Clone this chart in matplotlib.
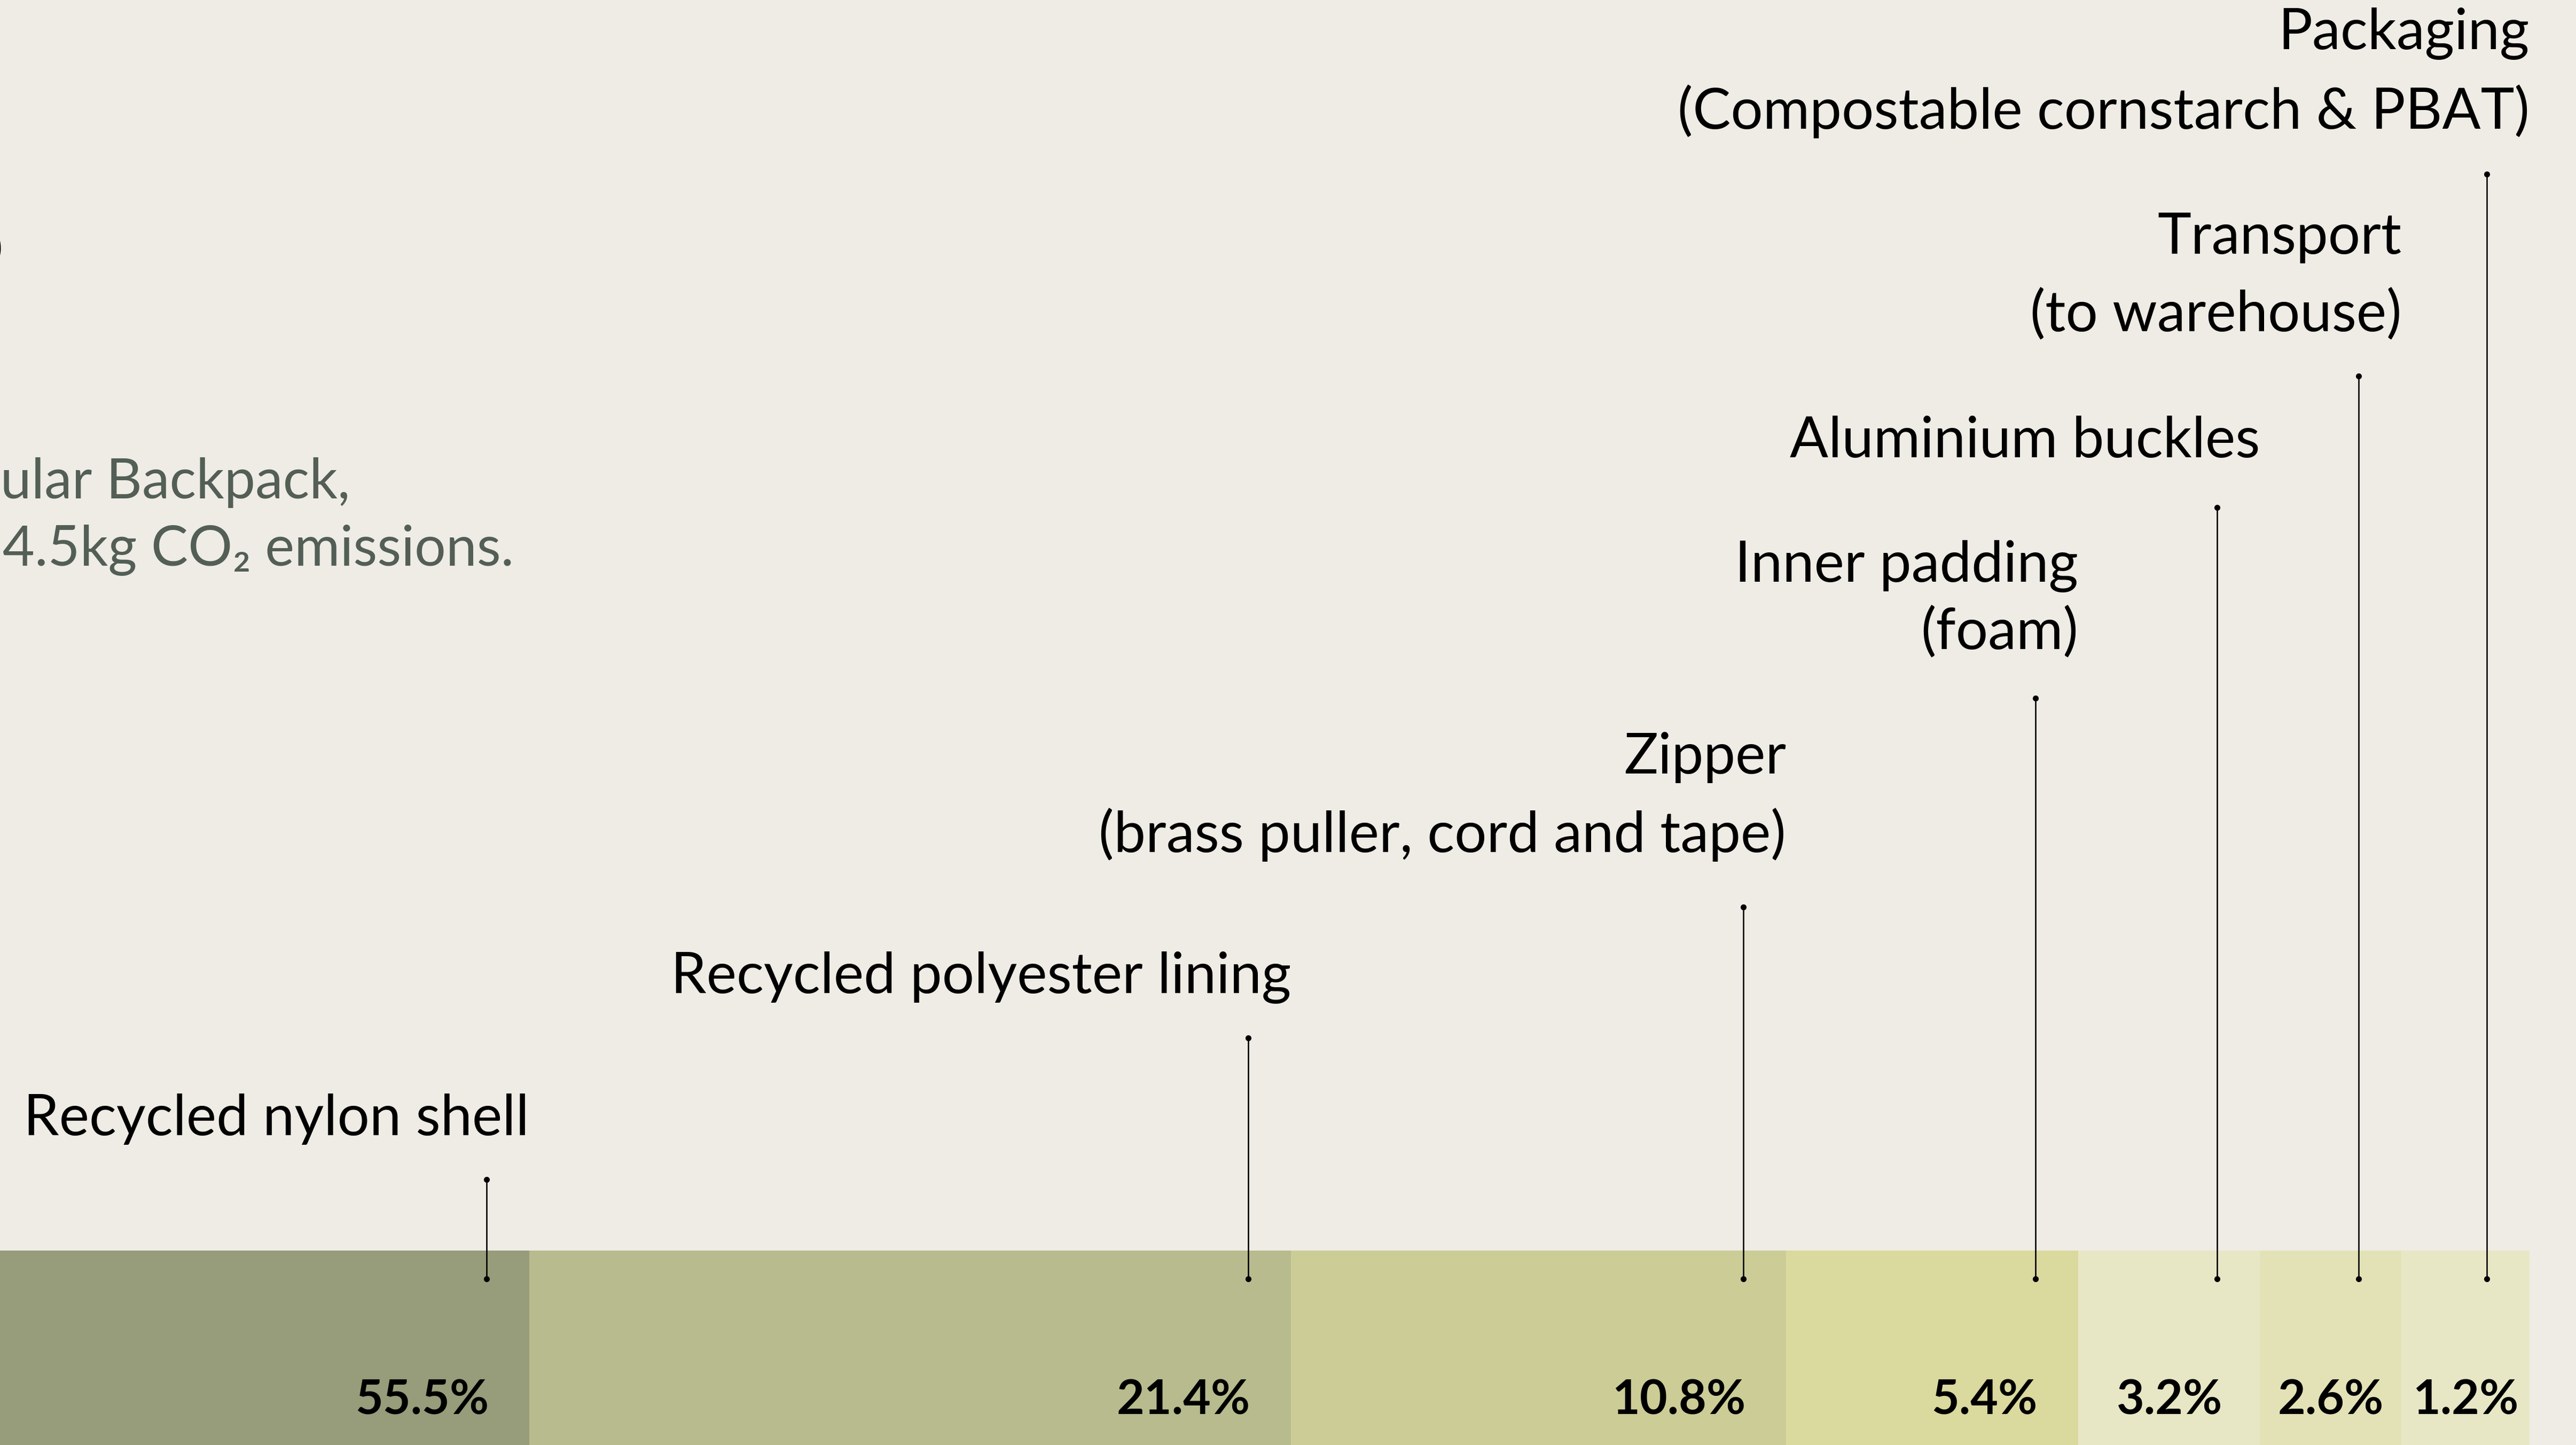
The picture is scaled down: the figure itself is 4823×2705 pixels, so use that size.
import matplotlib
matplotlib.use("Agg")
import matplotlib.pyplot as plt
import numpy as np

# ---------------- data ----------------
components = ["Recycled nylon shell", "Recycled polyester lining", "Zipper",
              "Inner padding", "Aluminium buckles", "Transport", "Packaging"]
sublabels = ["", "", "(brass puller, cord and tape)", "(foam)", "",
             "(to warehouse)", "(Compostable cornstarch & PBAT)"]
shares = [55.5, 21.4, 10.8, 5.4, 3.2, 2.6, 1.2]
# visual width of each block as drawn in the chart (not proportional to share)
segment_widths = [37.0, 14.26, 9.27, 5.47, 3.40, 2.65, 2.40]

subtitle_lines = ["Our Modular Backpack,", "responsible for 14.5kg CO\u2082 emissions."]
title_text = "Carbon footprint, step by step"

# ---------------- style ----------------
BG = "#efece5"
colors = ["#979c7a", "#b8bb8d", "#cccc97", "#dad99e", "#e8e7c5", "#e3e2b7", "#e8e7c5"]
SUB_COLOR = "#535f56"
FAMILY = ["Lato", "DejaVu Sans"]

W, H, DPI = 4823, 2705, 100
fig = plt.figure(figsize=(W / DPI, H / DPI), dpi=DPI)
fig.patch.set_facecolor(BG)
ax = fig.add_axes([0, 0, 1, 1])
ax.set_facecolor(BG)
ax.axis("off")

widths = np.array(segment_widths)
lefts = np.concatenate([[0], np.cumsum(widths)[:-1]])
rights = lefts + widths

# view window: first block's right edge sits 991 px from the left border
x0 = rights[0] - 9.91
ax.set_xlim(x0, x0 + W / 100.0)
ax.set_ylim(H, 0)  # layout coordinates in pixels, top = 0


def px2x(px):
    return x0 + px / 100.0


renderer = fig.canvas.get_renderer()


def fit_size(text, target_px, weight="normal", base=100):
    t = fig.text(0, 0, text, fontsize=base, family=FAMILY, weight=weight)
    w = t.get_window_extent(renderer).width
    t.remove()
    return base * target_px / w


label_fs = np.mean([fit_size("Recycled nylon shell", 939),
                    fit_size("Recycled polyester lining", 1164),
                    fit_size("(Compostable cornstarch & PBAT)", 1564),
                    fit_size("(brass puller, cord and tape)", 1322)])
pct_fs = np.mean([fit_size("10.8%", 246, "bold"), fit_size("55.5%", 254, "bold")])
sub_fs = fit_size("4.5kg CO\u2082 emissions.", 958)

# ---------------- bars ----------------
bar_top, bar_bottom = 2341, 2800
ax.barh(y=(bar_top + bar_bottom) / 2, width=widths, left=lefts,
        height=bar_bottom - bar_top, color=colors, edgecolor="none", linewidth=0)

# ---------------- labels / leaders ----------------
label_baseline = [2125, 1859, 1448, 1089, 856, 475, 92]
sub_baseline = [None, None, 1595, 1215, None, 620, 241]
leader_top = [2208, 1943, 1698, 1307, 950, 704, 326]
leader_bottom = 2394
leader_offset = 0.80
pct_baseline = 2647

for i, name in enumerate(components):
    xr = rights[i]
    ax.text(xr, label_baseline[i], name, ha="right", va="baseline",
            fontsize=label_fs, family=FAMILY, color="black")
    if sublabels[i]:
        ax.text(xr, sub_baseline[i], sublabels[i], ha="right", va="baseline",
                fontsize=label_fs, family=FAMILY, color="black")
    lx = xr - leader_offset
    ax.plot([lx, lx], [leader_top[i], leader_bottom], color="black", lw=1.9,
            marker="o", ms=7, mfc="black", mec="black", solid_capstyle="butt")
    pct = f"{shares[i]:.1f}%"
    if widths[i] > 4.0:
        ax.text(xr - 0.76, pct_baseline, pct, ha="right", va="baseline",
                fontsize=pct_fs, family=FAMILY, weight="bold", color="black")
    else:
        ax.text(lefts[i] + widths[i] / 2, pct_baseline, pct, ha="center", va="baseline",
                fontsize=pct_fs, family=FAMILY, weight="bold", color="black")

# ---------------- title / subtitle (partly outside the visible window) ----------------
ax.text(px2x(8), 503, title_text, ha="right", va="baseline",
        fontsize=label_fs * 1.4, family=FAMILY, color="black")
ax.text(px2x(655), 933, subtitle_lines[0], ha="right", va="baseline",
        fontsize=sub_fs, family=FAMILY, color=SUB_COLOR)
ax.text(px2x(962), 1059, subtitle_lines[1], ha="right", va="baseline",
        fontsize=sub_fs, family=FAMILY, color=SUB_COLOR)

fig.savefig("out.png", dpi=DPI, facecolor=BG)
